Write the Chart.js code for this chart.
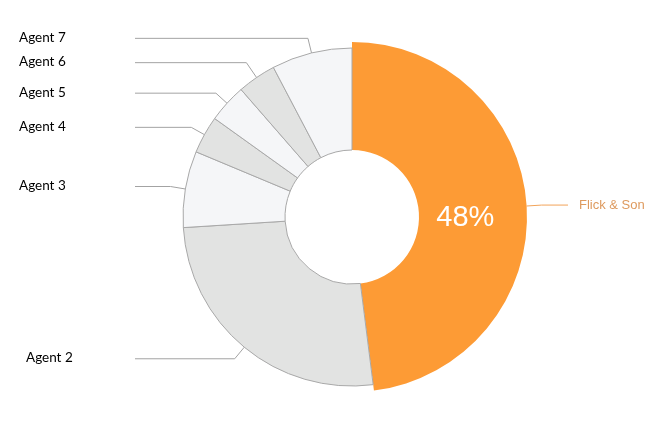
<!DOCTYPE html>
<html>
<head>
<meta charset="utf-8">
<script src="https://cdn.jsdelivr.net/npm/chart.js@4.4.1/dist/chart.umd.min.js"></script>
<style>
  html, body { margin: 0; padding: 0; background: #ffffff; }
  #c { display: block; }
</style>
</head>
<body>
<canvas id="c" width="668" height="429"></canvas>
<script>
// Market share by agency
const agents = ['Flick & Son', 'Agent 2', 'Agent 3', 'Agent 4', 'Agent 5', 'Agent 6', 'Agent 7'];
const shares = [48, 26, 7.3, 3.6, 3.7, 3.7, 7.7];
const fills = ['#FD9B35', '#E2E3E2', '#F5F6F8', '#E2E3E2', '#F5F6F8', '#E2E3E2', '#F5F6F8'];

const RING_RADIUS = 169;      // outer radius of the ring, px
const HOLE_RADIUS = 67;       // radius of the hole, px
const LEAD_GROW = 6;          // the leading slice stands out past the ring
const ELBOW = 15;             // length of the radial part of a leader line
const LEFT_LINE_END = 135;
const RIGHT_LINE_END = 568;
const LEFT_TEXT_X = 19;
const RIGHT_TEXT_X = 579;
const textNudge = { 'Agent 2': 7 };
const elbowExtra = { 'Agent 6': 3 };

const total = shares.reduce((a, b) => a + b, 0);

const ringDecor = {
  id: 'ringDecor',
  afterDatasetsUpdate(chart) {
    const meta = chart.getDatasetMeta(0);
    const lead = meta.data[0];
    lead.outerRadius = meta.controller.outerRadius + LEAD_GROW;
  },
  afterDatasetsDraw(chart) {
    const ctx = chart.ctx;
    const meta = chart.getDatasetMeta(0);
    ctx.save();
    meta.data.forEach((arc, i) => {
      const { x, y, startAngle, endAngle, outerRadius } = arc;
      const mid = (startAngle + endAngle) / 2;
      const cos = Math.cos(mid), sin = Math.sin(mid);
      const reach = outerRadius + ELBOW + (elbowExtra[agents[i]] || 0);
      const p0x = x + cos * outerRadius, p0y = y + sin * outerRadius;
      const p1x = x + cos * reach, p1y = y + sin * reach;
      const right = cos > 0;
      ctx.beginPath();
      ctx.lineWidth = 1;
      ctx.strokeStyle = i === 0 ? '#F2A45A' : '#A3A3A3';
      ctx.moveTo(p0x, p0y);
      ctx.lineTo(p1x, p1y);
      ctx.lineTo(right ? RIGHT_LINE_END : LEFT_LINE_END, p1y);
      ctx.stroke();

      ctx.textBaseline = 'middle';
      ctx.textAlign = 'left';
      if (right) {
        ctx.font = '13px "Liberation Sans", Arial, sans-serif';
        ctx.fillStyle = '#DE9A5E';
        ctx.fillText(agents[i], RIGHT_TEXT_X, p1y);
      } else {
        ctx.font = '13.5px Lato, "Open Sans", sans-serif';
        ctx.fillStyle = '#000000';
        ctx.fillText(agents[i], LEFT_TEXT_X + (textNudge[agents[i]] || 0), p1y - 1);
      }
    });

    // percentage of the leading slice
    const lead = meta.data[0];
    const rMid = (lead.innerRadius + meta.controller.outerRadius) / 2;
    ctx.font = '29px "Liberation Sans", Arial, sans-serif';
    ctx.fillStyle = '#FFFFFF';
    ctx.textAlign = 'center';
    ctx.textBaseline = 'middle';
    ctx.fillText(Math.round(shares[0] / total * 100) + '%', lead.x + rMid * 0.96, lead.y + 1);
    ctx.restore();
  }
};

new Chart(document.getElementById('c'), {
  type: 'doughnut',
  data: {
    labels: agents,
    datasets: [{
      data: shares,
      backgroundColor: fills,
      borderColor: agents.map((_, i) => i === 0 ? '#FD9B35' : '#A8A8A8'),
      borderWidth: agents.map((_, i) => i === 0 ? 0 : 1)
    }]
  },
  options: {
    responsive: false,
    animation: false,
    radius: RING_RADIUS,
    cutout: (HOLE_RADIUS / RING_RADIUS * 100) + '%',
    layout: { padding: { left: 36, right: 0, top: 5, bottom: 0 } },
    plugins: {
      legend: { display: false },
      tooltip: { enabled: false },
      title: { display: false }
    },
    events: []
  },
  plugins: [ringDecor]
});
</script>
</body>
</html>
